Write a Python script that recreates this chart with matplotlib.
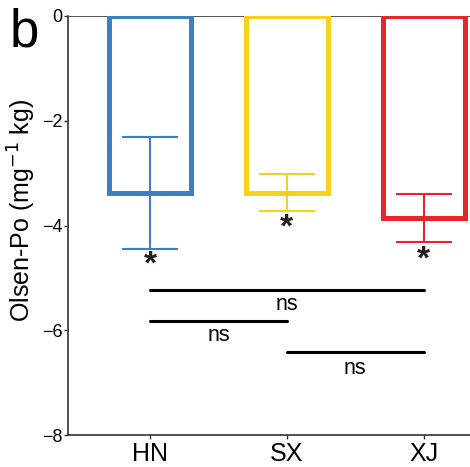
import numpy as np
from matplotlib import pyplot as plt

plt.rcParams['font.family'] = ['Liberation Sans', 'DejaVu Sans']

sites = ["HN", "SX", "XJ"]
means = [-3.38, -3.37, -3.86]
errs = [1.07, 0.35, 0.46]
colors = ["#3b7fc4", "#f6d21e", "#e8262a"]
star_y = [-4.69, -3.99, -4.6]

# pairwise comparisons: (i, j, line y, label y)
pairs = [(0, 2, -5.23, -5.5), (0, 1, -5.82, -6.1), (1, 2, -6.41, -6.72)]
pair_labels = ["ns", "ns", "ns"]

fig = plt.figure(figsize=(4.70, 4.67), dpi=100)
ax = fig.add_axes([0.145, 0.068, 0.855, 0.898])
x = np.arange(1, len(sites) + 1)

ax.bar(x, means, width=0.6, fill=False, edgecolor=colors, linewidth=3.6, zorder=3)
for xi, m, e, c in zip(x, means, errs, colors):
    ax.errorbar(xi, m, yerr=e, color=c, capsize=20, elinewidth=1.5,
                capthick=1.5, zorder=4)
for xi, sy in zip(x, star_y):
    ax.text(xi, sy, "*", ha="center", va="center_baseline", fontsize=24,
            fontweight="bold", color="#231f20")

for (i, j, ly, ty), lab in zip(pairs, pair_labels):
    ax.plot([x[i], x[j]], [ly, ly], color="black", lw=2.2, solid_capstyle="round")
    ax.text((x[i] + x[j]) / 2, ty, lab, ha="center", va="center", fontsize=15.5)

ax.axhline(0, color="#333333", lw=1.2, zorder=2)
ax.set_xlim(0.4, 3.34)
ax.set_ylim(-8, 0)
ax.set_yticks([0, -2, -4, -6, -8])
ax.set_yticklabels(["0", "\u22122", "\u22124", "\u22126", "\u22128"])
ax.set_xticks(x)
ax.set_xticklabels(sites, fontsize=18)
ax.tick_params(axis="y", labelsize=13, length=3, width=1, color="#333333", pad=1)
ax.tick_params(axis="x", length=3, width=1, color="#333333", pad=2)
for s in ["top", "right"]:
    ax.spines[s].set_visible(False)
for s in ["left", "bottom"]:
    ax.spines[s].set_color("#333333")
    ax.spines[s].set_linewidth(1.2)
ax.set_ylabel("Olsen-Po (mg$^{-1}$ kg)", fontsize=18)
ax.yaxis.set_label_coords(-0.075, 0.537)
fig.text(0.02, 0.985, "b", fontsize=38, va="top", ha="left")

fig.savefig("out.png", dpi=100)
